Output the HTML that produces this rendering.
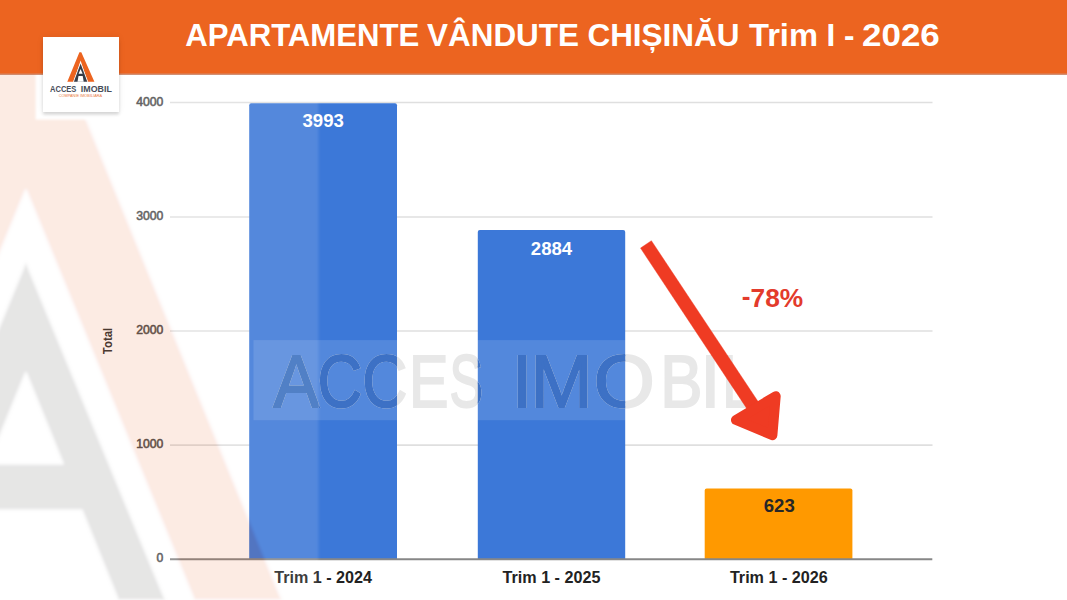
<!DOCTYPE html>
<html><head><meta charset="utf-8">
<style>
html,body{margin:0;padding:0;background:#fff;}
body{width:1067px;height:600px;overflow:hidden;position:relative;font-family:"Liberation Sans",Arial,sans-serif;}
svg{position:absolute;left:0;top:0;display:block;}
.logo{position:absolute;left:42.6px;top:36.6px;width:76.2px;height:75.7px;background:#fff;box-shadow:0 2.5px 3px rgba(0,0,0,0.14),0 0 7px rgba(0,0,0,0.07);}
.logo svg{position:absolute;left:0;top:0;}
</style></head><body>
<svg width="1067" height="600" viewBox="0 0 1067 600" font-family="Liberation Sans, Arial, sans-serif">
  <rect x="0" y="0" width="1067" height="600" fill="#fff"/>
  <g stroke="#dfdfdf" stroke-width="1.7">
    <line x1="170" y1="102.5" x2="932.5" y2="102.5"/>
    <line x1="170" y1="217" x2="932.5" y2="217"/>
    <line x1="170" y1="331" x2="932.5" y2="331"/>
    <line x1="170" y1="445.2" x2="932.5" y2="445.2"/>
  </g>
  <g font-size="12.2" fill="#4d4d4d" stroke="#4d4d4d" stroke-width="0.55" text-anchor="end">
    <text x="163.4" y="105.5">4000</text>
    <text x="163.4" y="219.7">3000</text>
    <text x="163.4" y="334">2000</text>
    <text x="163.4" y="448.2">1000</text>
    <text x="163.4" y="562.4">0</text>
  </g>
  <text transform="translate(112.4,341) rotate(-90)" font-size="12.2" font-weight="bold" fill="#333" text-anchor="middle" textLength="26.3" lengthAdjust="spacingAndGlyphs">Total</text>
  <path d="M249.2,559 V105.2 Q249.2,103.2 251.2,103.2 H395 Q397,103.2 397,105.2 V559 Z" fill="#3c78d8"/>
  <path d="M477.8,559 V232 Q477.8,230 479.8,230 H623.2 Q625.2,230 625.2,232 V559 Z" fill="#3c78d8"/>
  <path d="M704.7,559 V490.4 Q704.7,488.4 706.7,488.4 H850.4 Q852.4,488.4 852.4,490.4 V559 Z" fill="#ff9900"/>
  <g font-size="18.6" font-weight="bold" text-anchor="middle">
    <text x="323.2" y="126.9" fill="#fff">3993</text>
    <text x="551.5" y="254.8" fill="#fff">2884</text>
    <text x="779.3" y="511.6" fill="#262626">623</text>
  </g>
  <g font-size="16" font-weight="bold" fill="#222" text-anchor="middle">
    <text x="323.1" y="582.7" textLength="97.8" lengthAdjust="spacingAndGlyphs">Trim 1 - 2024</text>
    <text x="551.5" y="582.7" textLength="97.8" lengthAdjust="spacingAndGlyphs">Trim 1 - 2025</text>
    <text x="778.8" y="582.7" textLength="97.8" lengthAdjust="spacingAndGlyphs">Trim 1 - 2026</text>
  </g>
  <line x1="170" y1="559.3" x2="932.3" y2="559.3" stroke="#878787" stroke-width="2"/>

  <defs><filter id="wb" filterUnits="userSpaceOnUse" x="-300" y="60" width="700" height="600"><feGaussianBlur stdDeviation="1.4"/></filter></defs>
  <g opacity="0.12" filter="url(#wb)">
    <rect x="-10" y="74" width="328.4" height="536" fill="#fff"/>
    <polygon points="25.9,-28.7 281.7,600 194.5,600 25.9,188.8 -142.7,600 -229.9,600" fill="#ec6420"/>
    <polygon points="25.9,262.5 165.1,600 -113.3,600" fill="#3a3835"/>
    <polygon points="25.9,371.5 63.6,464.3 -11.8,464.3" fill="#fff"/>
    <polygon points="-30.25,509.8 82.05,509.8 118.5,600 -66.7,600" fill="#fff"/>
  </g>

  <filter id="hb" x="-20%" y="-20%" width="140%" height="140%"><feGaussianBlur stdDeviation="1.2"/></filter>
  <rect x="35.6" y="66" width="96" height="53.6" fill="#fff" filter="url(#hb)"/>
  <rect x="253.5" y="340.1" width="510" height="80.1" fill="#fff" opacity="0.12"/>
  <clipPath id="cA"><rect x="318.4" y="330" width="78.6" height="100"/><rect x="477.8" y="330" width="147.4" height="100"/></clipPath>
  <clipPath id="cB"><rect x="249.2" y="330" width="69.2" height="100"/></clipPath>
  <g font-size="74.4" fill="#e8e8e8" stroke="#e8e8e8" stroke-width="2">
<text transform="translate(273.39,407.4) scale(0.919,1)">A</text>
<text transform="translate(317.49,407.4) scale(0.831,1)">C</text>
<text transform="translate(362.27,407.4) scale(0.839,1)">C</text>
<text transform="translate(408.94,407.4) scale(0.796,1)">E</text>
<text transform="translate(449.59,407.4) scale(0.676,1)">S</text>
<text transform="translate(512.02,407.4) scale(0.984,1)">I</text>
<text transform="translate(530.39,407.4) scale(1.001,1)">M</text>
<text transform="translate(593.64,407.4) scale(1.055,1)">O</text>
<text transform="translate(660.26,407.4) scale(0.851,1)">B</text>
<text transform="translate(700.42,407.4) scale(0.951,1)">I</text>
<text transform="translate(722.19,407.4) scale(0.747,1)">L</text>
  </g>
  <g font-size="74.4" fill="#3d71c5" stroke="#3d71c5" stroke-width="2" clip-path="url(#cA)">
<text transform="translate(273.39,407.4) scale(0.919,1)">A</text>
<text transform="translate(317.49,407.4) scale(0.831,1)">C</text>
<text transform="translate(362.27,407.4) scale(0.839,1)">C</text>
<text transform="translate(408.94,407.4) scale(0.796,1)">E</text>
<text transform="translate(449.59,407.4) scale(0.676,1)">S</text>
<text transform="translate(512.02,407.4) scale(0.984,1)">I</text>
<text transform="translate(530.39,407.4) scale(1.001,1)">M</text>
<text transform="translate(593.64,407.4) scale(1.055,1)">O</text>
<text transform="translate(660.26,407.4) scale(0.851,1)">B</text>
<text transform="translate(700.42,407.4) scale(0.951,1)">I</text>
<text transform="translate(722.19,407.4) scale(0.747,1)">L</text>
  </g>
  <g font-size="74.4" fill="#5180c6" stroke="#5180c6" stroke-width="2" clip-path="url(#cB)">
<text transform="translate(273.39,407.4) scale(0.919,1)">A</text>
<text transform="translate(317.49,407.4) scale(0.831,1)">C</text>
<text transform="translate(362.27,407.4) scale(0.839,1)">C</text>
<text transform="translate(408.94,407.4) scale(0.796,1)">E</text>
<text transform="translate(449.59,407.4) scale(0.676,1)">S</text>
<text transform="translate(512.02,407.4) scale(0.984,1)">I</text>
<text transform="translate(530.39,407.4) scale(1.001,1)">M</text>
<text transform="translate(593.64,407.4) scale(1.055,1)">O</text>
<text transform="translate(660.26,407.4) scale(0.851,1)">B</text>
<text transform="translate(700.42,407.4) scale(0.951,1)">I</text>
<text transform="translate(722.19,407.4) scale(0.747,1)">L</text>
  </g>

  <g fill="#ef3b23" stroke="#ef3b23" stroke-linejoin="round">
    <polygon points="640.5,248.1 651.4,240.7 763,409 752,416.4" stroke-width="0.4"/>
    <polygon points="736,420 775.7,396.2 772.4,435.2" stroke-width="10"/>
  </g>
  <text x="772.5" y="307.2" font-size="26.3" font-weight="bold" fill="#e33b2c" text-anchor="middle"><tspan dy="-2.6">-</tspan><tspan dy="2.6">78%</tspan></text>

  <rect x="0" y="0" width="1067" height="73.8" fill="#ec6420"/>
  <rect x="0" y="73.7" width="1067" height="1" fill="#bf623a"/>
  <g font-size="31.4" font-weight="bold" fill="#fff">
    <text x="185.2" y="46" textLength="234.2" lengthAdjust="spacingAndGlyphs">APARTAMENTE</text>
    <text x="427" y="46" textLength="152" lengthAdjust="spacingAndGlyphs">VÂNDUTE</text>
    <text x="587.4" y="46" textLength="152.2" lengthAdjust="spacingAndGlyphs">CHIȘINĂU</text>
    <text x="749" y="46" textLength="69" lengthAdjust="spacingAndGlyphs">Trim</text>
    <text x="826.6" y="46">I</text>
    <text x="844" y="46">-</text>
    <text x="862" y="46" textLength="77.8" lengthAdjust="spacingAndGlyphs">2026</text>
  </g>
</svg>
<div class="logo">
<svg width="76" height="76" viewBox="0 0 76 76" font-family="Liberation Sans, Arial, sans-serif">
  <polygon points="36.4,15.3 38.3,15.3 51.4,44.7 44.6,44.7 37.6,23.5 30.5,44.7 24.3,44.7" fill="#ec6420"/>
  <polygon points="37.6,25.2 45.2,44.7 30.0,44.7" fill="#fff"/>
  <polygon points="37.6,26.4 44.3,44.7 30.9,44.7" fill="#373d48"/>
  <polygon points="37.6,32.0 39.6,36.8 35.6,36.8" fill="#fff"/>
  <polygon points="35.5,39 39.7,39 40.7,44.8 34.5,44.8" fill="#fff"/>
  <g font-size="9.6" font-weight="bold" fill="#474d59">
    <text x="7.0" y="54.8" textLength="26.4" lengthAdjust="spacingAndGlyphs">ACCES</text>
    <text x="37.8" y="54.8" textLength="31" lengthAdjust="spacingAndGlyphs">IMOBIL</text>
  </g>
  <text x="15.8" y="60" font-size="4.2" fill="#e9793f" textLength="43.3" lengthAdjust="spacingAndGlyphs">COMPANIE IMOBILIARĂ</text>
</svg>
</div>
</body></html>
